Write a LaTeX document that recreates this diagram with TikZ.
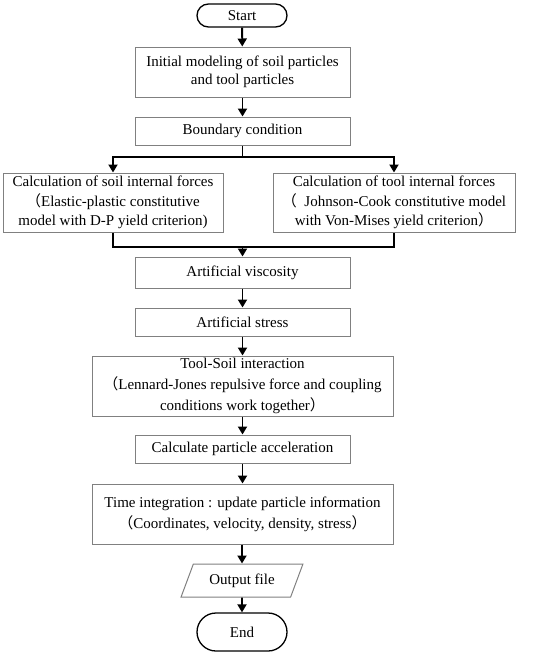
\documentclass[tikz,border=0pt]{standalone}
\usepackage{fontspec}
\setmainfont{Liberation Serif}
\newfontfamily\cjkfont{Noto Sans CJK SC}
\usetikzlibrary{shapes.misc,shapes.geometric,arrows.meta}
\newcommand{\fwlp}{{\cjkfont （}}
\newcommand{\fwrp}{{\cjkfont ）}}
\definecolor{boxgray}{RGB}{128,128,128}
\tikzset{
  procbox/.style={draw=boxgray, line width=1pt, rectangle, align=center, inner sep=0pt,
    font=\fontsize{15}{19.5}\selectfont},
  termbox/.style={draw=black, line width=1.3pt, rounded rectangle, align=center, inner sep=0pt,
    font=\fontsize{15}{19.5}\selectfont},
  iobox/.style={draw=boxgray, line width=1pt, trapezium, trapezium left angle=59,
    trapezium right angle=121, trapezium stretches=true, inner sep=0pt,
    font=\fontsize{15}{19.5}\selectfont},
  ln/.style={draw=black, line width=1.9pt},
  arr/.style={ln, -{Triangle[length=8pt,width=9pt]}},
}
\begin{document}
\begin{tikzpicture}[x=1pt,y=-1pt]
\useasboundingbox (0,0) rectangle (550,656);
\node[termbox, minimum width=90pt, minimum height=23pt] (start) at (242,15.5) {Start};
\node[procbox, minimum width=215pt, minimum height=50pt, font=\fontsize{15}{18.5}\selectfont] (init) at (242.5,72) {Initial modeling of soil particles\\and tool particles};
\node[procbox, minimum width=215pt, minimum height=28pt] (bound) at (242.5,131) {Boundary condition};
\node[procbox, minimum width=220pt, minimum height=59pt] (soil) at (113,202.5) {Calculation of soil internal forces\\\fwlp Elastic-plastic constitutive\\model with D-P yield criterion)};
\node[procbox, minimum width=242pt, minimum height=59pt] (tool) at (394,202.5) {Calculation of tool internal forces\\\fwlp\ \ Johnson-Cook constitutive model\\with Von-Mises yield criterion\fwrp};
\node[procbox, minimum width=215pt, minimum height=31pt] (visc) at (242.5,272.5) {Artificial viscosity};
\node[procbox, minimum width=215pt, minimum height=28pt] (stress) at (242.5,322) {Artificial stress};
\node[procbox, minimum width=301pt, minimum height=60pt, font=\fontsize{15}{21}\selectfont] (inter) at (242.5,386) {Tool-Soil interaction\\\fwlp Lennard-Jones repulsive force and coupling\\conditions work together\fwrp};
\node[procbox, minimum width=215pt, minimum height=28pt] (accel) at (242.5,449) {Calculate particle acceleration};
\node[procbox, minimum width=301pt, minimum height=60pt, font=\fontsize{15}{21}\selectfont] (time) at (242.5,514) {Time integration : update particle information\\\fwlp Coordinates, velocity, density, stress\fwrp};
\node[iobox, minimum width=122pt, minimum height=33pt] (out) at (242,580.5) {Output file};
\node[termbox, minimum width=90pt, minimum height=38pt] (end) at (242,632) {End};

\draw[arr] (start) -- (init);
\draw[arr] (init) -- (bound);
\coordinate (jn) at (242.5,157);
\coordinate (mj) at (242.5,247);
\draw[ln] (bound.south) -- (jn);
\draw[arr] (jn) -| (soil.north);
\draw[arr] (jn) -| (tool.north);
\draw[ln] (soil.south) -- (soil.south |- mj) -- (tool.south |- mj) -- (tool.south);
\draw[arr] (mj) -- (visc.north);
\draw[arr] (visc) -- (stress);
\draw[arr] (stress) -- (inter);
\draw[arr] (inter) -- (accel);
\draw[arr] (accel) -- (time);
\draw[arr] (time.south -| out.north) -- (out.north);
\draw[arr] (out) -- (end);
\end{tikzpicture}
\end{document}
